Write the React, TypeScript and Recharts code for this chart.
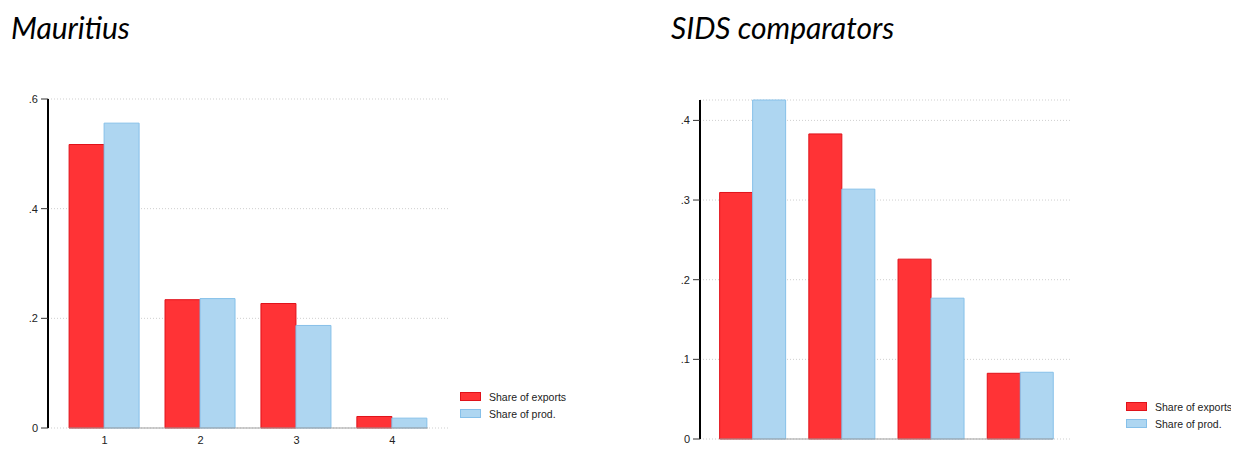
import { Bar, BarChart, CartesianGrid, Legend, ReferenceLine, XAxis, YAxis } from 'recharts';

const categories = [1, 2, 3, 4];
const mauritiusExports = [0.517, 0.234, 0.227, 0.021];
const mauritiusProd = [0.556, 0.236, 0.187, 0.018];
const sidsExports = [0.3095, 0.383, 0.2258, 0.0825];
const sidsProd = [0.4256, 0.3137, 0.1768, 0.0838];
const mauritiusTicks = [0, 0.2, 0.4, 0.6];
const sidsTicks = [0, 0.1, 0.2, 0.3, 0.4];
const seriesNames = ['Share of exports', 'Share of prod.'];

const RED = '#ff3336';
const RED_EDGE = '#e0121a';
const BLUE = '#aed6f1';
const BLUE_EDGE = '#86c0e9';
const xDomain = [0.41, 4.58];
const groupHalf = 0.37;
const CHART_H = 454;

const fmt = (v: number) => (v === 0 ? '0' : String(v).replace(/^0\./, '.'));

function LegendBox() {
  const items = [
    { name: seriesNames[0], fill: RED, stroke: RED_EDGE },
    { name: seriesNames[1], fill: BLUE, stroke: BLUE_EDGE },
  ];
  return (
    <div style={{ fontFamily: '"Liberation Sans", Arial, sans-serif', fontSize: 10.5, color: '#222' }}>
      {items.map((it) => (
        <div key={it.name} style={{ display: 'flex', alignItems: 'center', height: 17 }}>
          <span
            style={{
              display: 'inline-block',
              width: 19,
              height: 7,
              background: it.fill,
              border: `1px solid ${it.stroke}`,
              marginRight: 8,
            }}
          />
          <span style={{ whiteSpace: 'nowrap' }}>{it.name}</span>
        </div>
      ))}
    </div>
  );
}

interface PanelProps {
  title: string;
  titleLeft: number;
  exportsData: number[];
  prodData: number[];
  ticks: number[];
  yMax: number;
  width: number;
  top: number;
  right: number;
  xAxisHeight: number;
  legendLeft: number;
  legendTop: number;
}

function Panel(p: PanelProps) {
  const data = categories.map((c, i) => ({ cat: c, exports: p.exportsData[i], prod: p.prodData[i] }));
  return (
    <div style={{ position: 'relative', width: p.width, height: CHART_H }}>
      <div
        style={{
          position: 'absolute',
          left: p.titleLeft,
          top: 9,
          fontFamily: 'Lato, "Open Sans", sans-serif',
          fontStyle: 'italic',
          fontSize: 30,
          lineHeight: '36px',
          color: '#000',
          whiteSpace: 'nowrap',
        }}
      >
        {p.title}
      </div>
      <BarChart
        width={p.width}
        height={CHART_H}
        data={data}
        margin={{ top: p.top, right: p.right, left: 8, bottom: 0 }}
        barCategoryGap="13%"
        barGap={0}
      >
        <CartesianGrid vertical={false} stroke="#cfcfcf" strokeDasharray="1 2" />
        <XAxis
          dataKey="cat"
          type="number"
          domain={xDomain}
          ticks={categories}
          axisLine={false}
          tickLine={false}
          tickSize={0}
          tickMargin={8}
          height={p.xAxisHeight}
          tick={{ fontSize: 11, fill: '#222', fontFamily: '"Liberation Sans", Arial, sans-serif' }}
        />
        <YAxis
          type="number"
          domain={[0, p.yMax]}
          ticks={p.ticks}
          width={40}
          axisLine={{ stroke: '#000', strokeWidth: 2 }}
          tickLine={{ stroke: '#333' }}
          tickSize={7}
          tickMargin={3}
          tickFormatter={fmt}
          tick={{ fontSize: 11, fill: '#222', fontFamily: '"Liberation Sans", Arial, sans-serif' }}
        />
        <Bar dataKey="exports" name={seriesNames[0]} fill={RED} stroke={RED_EDGE} strokeWidth={1} isAnimationActive={false} />
        <Bar dataKey="prod" name={seriesNames[1]} fill={BLUE} stroke={BLUE_EDGE} strokeWidth={1} isAnimationActive={false} />
        <ReferenceLine
          segment={[
            { x: categories[0] - groupHalf, y: 0 },
            { x: categories[categories.length - 1] + groupHalf, y: 0 },
          ]}
          stroke="#a0a0a0"
          strokeWidth={1.2}
          ifOverflow="visible"
        />
        <Legend
          layout="vertical"
          align="center"
          verticalAlign="middle"
          content={() => <LegendBox />}
          wrapperStyle={{ left: p.legendLeft, top: p.legendTop, width: 140, height: 40 }}
        />
      </BarChart>
    </div>
  );
}

export default function App() {
  return (
    <div style={{ position: 'relative', width: 1239, height: 454, margin: -8, background: '#fff', overflow: 'hidden' }}>
      <div style={{ position: 'absolute', left: 0, top: 0 }}>
        <Panel
          title="Mauritius"
          titleLeft={11}
          exportsData={mauritiusExports}
          prodData={mauritiusProd}
          ticks={mauritiusTicks}
          yMax={0.6}
          width={620}
          top={99}
          right={172}
          xAxisHeight={26}
          legendLeft={460}
          legendTop={388}
        />
      </div>
      <div style={{ position: 'absolute', left: 652, top: 0 }}>
        <Panel
          title="SIDS comparators"
          titleLeft={19}
          exportsData={sidsExports}
          prodData={sidsProd}
          ticks={sidsTicks}
          yMax={Math.max(...sidsProd, ...sidsExports)}
          width={587}
          top={100}
          right={167}
          xAxisHeight={15}
          legendLeft={474}
          legendTop={398}
        />
      </div>
    </div>
  );
}
